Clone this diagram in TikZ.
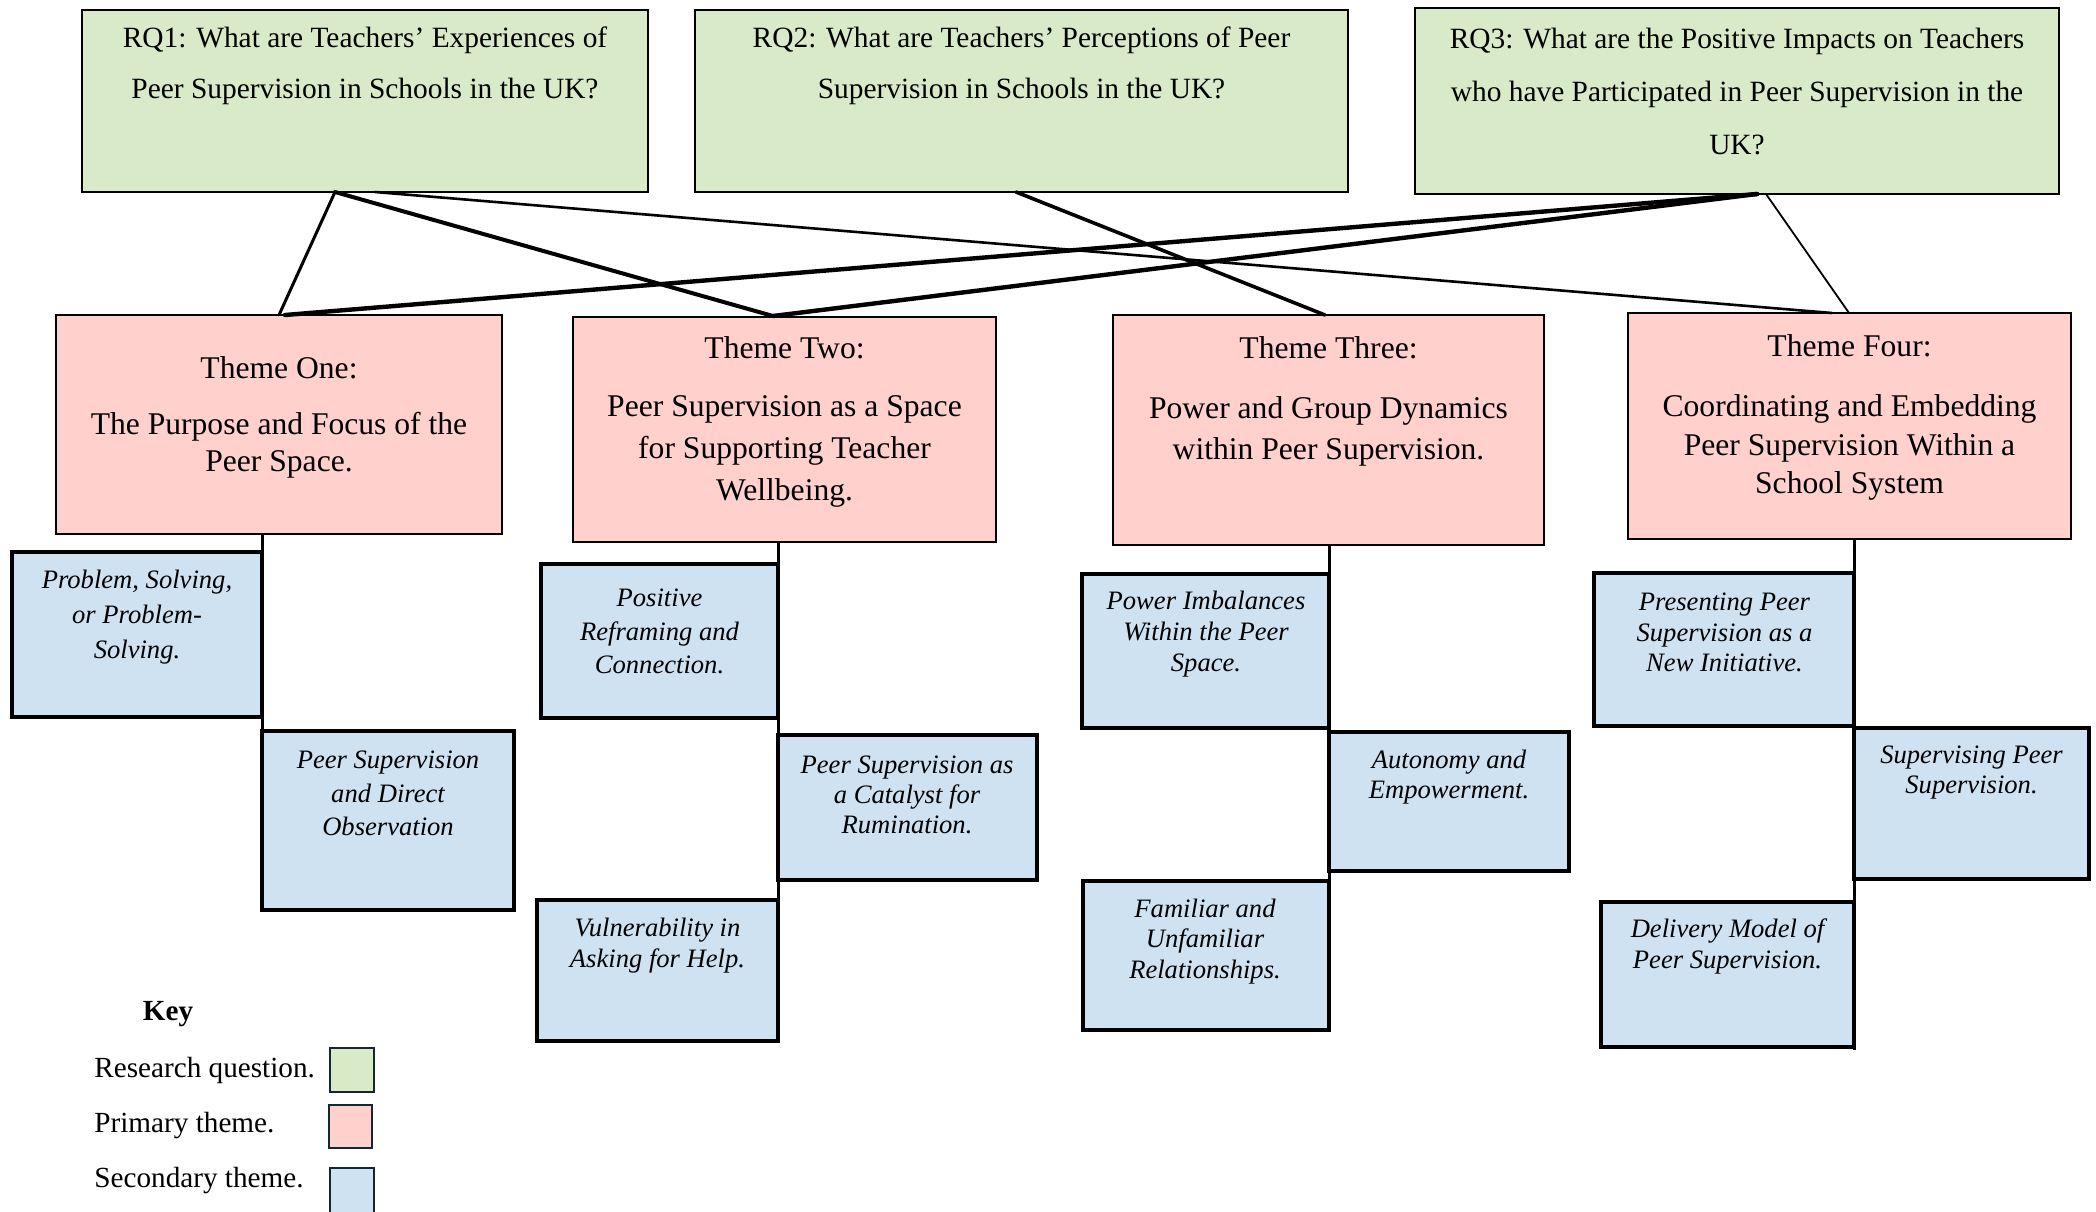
\documentclass[tikz,border=0pt]{standalone}
\usepackage{fontspec}
\setmainfont{Liberation Serif}
\usetikzlibrary{fit}
\definecolor{rqgreen}{RGB}{217,234,200}
\definecolor{thpink}{RGB}{255,208,204}
\definecolor{secblue}{RGB}{207,226,242}
\definecolor{keyedge}{RGB}{18,38,52}
\begin{document}
\begin{tikzpicture}[x=0.5pt,y=-0.5pt,
  rqbox/.style={draw=black, fill=rqgreen, line width=1.3pt, inner sep=0pt},
  thbox/.style={draw=black, fill=thpink, line width=1.4pt, inner sep=0pt},
  secbox/.style={draw=black, fill=secblue, line width=2pt, inner sep=0pt},
  keybox/.style={draw=keyedge, line width=1.1pt, inner sep=0pt},
  rqtext/.style={align=center, inner sep=0pt, font=\fontsize{14.7}{25.5}\selectfont},
  thtitle/.style={align=center, inner sep=0pt, font=\fontsize{15.8}{19}\selectfont},
  thtext/.style={align=center, inner sep=0pt, font=\fontsize{15.8}{#1}\selectfont},
  sectext/.style={align=center, inner sep=0pt, font=\fontsize{13.3}{#1}\selectfont\itshape},
  keytext/.style={anchor=west, inner sep=0pt, font=\fontsize{14.6}{17}\selectfont},
  link/.style={draw=black, line cap=round, line width=#1},
  stem/.style={draw=black, line width=1.5pt}
]
\useasboundingbox (0,0) rectangle (2096,1211);
\fill[white] (0,0) rectangle (2096,1211);

% Research questions
\node[rqbox, fit={(82,10) (648,192)}] (rq1) {};
\node[rqbox, fit={(695,10) (1348,192)}] (rq2) {};
\node[rqbox, fit={(1415,8) (2059,194)}] (rq3) {};
\node[rqtext] (rq1t) at (365,66) {RQ1: What are Teachers’ Experiences of\\Peer Supervision in Schools in the UK?};
\node[rqtext] (rq2t) at (1021.5,66) {RQ2: What are Teachers’ Perceptions of Peer\\Supervision in Schools in the UK?};
\node[rqtext, font=\fontsize{14.7}{26.5}\selectfont] (rq3t) at (1737,92) {RQ3: What are the Positive Impacts on Teachers\\who have Participated in Peer Supervision in the\\UK?};

% Primary themes
\node[thbox, fit={(56,315) (502,534)}] (th1) {};
\node[thbox, fit={(573,317) (996,542)}] (th2) {};
\node[thbox, fit={(1113,315) (1544,545)}] (th3) {};
\node[thbox, fit={(1628,313) (2071,539)}] (th4) {};
\node[thtitle] (th1a) at (279,368) {Theme One:};
\node[thtext=18.5] (th1b) at (279,445.5) {The Purpose and Focus of the\\Peer Space.};
\node[thtitle] (th2a) at (784.5,348) {Theme Two:};
\node[thtext=21] (th2b) at (784.5,451) {Peer Supervision as a Space\\for Supporting Teacher\\Wellbeing.};
\node[thtitle] (th3a) at (1328.5,348) {Theme Three:};
\node[thtext=20.5] (th3b) at (1328.5,431.5) {Power and Group Dynamics\\within Peer Supervision.};
\node[thtitle] (th4a) at (1849.5,346) {Theme Four:};
\node[thtext=19.3] (th4b) at (1849.5,447.5) {Coordinating and Embedding\\Peer Supervision Within a\\School System};

% Connector attachment points
\coordinate (rq1a) at (335,192);
\coordinate (rq1b) at (375,192);
\coordinate (rq2a) at (1016,192);
\coordinate (rq3a) at (1757,194);
\coordinate (rq3b) at (1766,194);
\coordinate (th1p) at (279,315);
\coordinate (th1q) at (285,315);
\coordinate (th2p) at (773,316);
\coordinate (th3p) at (1325,315);
\coordinate (th4p) at (1832,313);
\coordinate (th4q) at (1849,313);

\draw[link=1.5pt] (rq1a) -- (th1p);
\draw[link=2pt] (rq1a) -- (th2p);
\draw[link=1.3pt] (rq1b) -- (th4p);
\draw[link=1.8pt] (rq2a) -- (th3p);
\draw[link=2.2pt] (rq3a) -- (th1q);
\draw[link=2.2pt] (rq3a) -- (th2p);
\draw[link=0.9pt] (rq3b) -- (th4q);

% Secondary themes
\node[secbox, fit={(12,552) (262,717)}] (s11) {};
\node[secbox, fit={(262,731) (514,910)}] (s12) {};
\node[secbox, fit={(541,564) (778,718)}] (s21) {};
\node[secbox, fit={(778,735) (1037,880)}] (s22) {};
\node[secbox, fit={(537,900) (778,1041)}] (s23) {};
\node[secbox, fit={(1082,574) (1329,728)}] (s31) {};
\node[secbox, fit={(1329,732) (1569,871)}] (s32) {};
\node[secbox, fit={(1083,881) (1329,1030)}] (s33) {};
\node[secbox, fit={(1594,573) (1854,726)}] (s41) {};
\node[secbox, fit={(1854,728) (2089,879)}] (s42) {};
\node[secbox, fit={(1601,902) (1854,1047)}] (s43) {};

\node[sectext=17.5] (s11t) at (137,617) {Problem, Solving,\\or Problem-\\Solving.};
\node[sectext=16.8] (s12t) at (388,793.5) {Peer Supervision\\and Direct\\Observation};
\node[sectext=16.8] (s21t) at (659.5,631.5) {Positive\\Reframing and\\Connection.};
\node[sectext=15] (s22t) at (907,795) {Peer Supervision as\\a Catalyst for\\Rumination.};
\node[sectext=15.5] (s23t) at (657.5,945.5) {Vulnerability in\\Asking for Help.};
\node[sectext=15.5] (s31t) at (1206,634) {Power Imbalances\\Within the Peer\\Space.};
\node[sectext=15.3] (s32t) at (1449,777) {Autonomy and\\Empowerment.};
\node[sectext=15.3] (s33t) at (1205,941.5) {Familiar and\\Unfamiliar\\Relationships.};
\node[sectext=15.3] (s41t) at (1724.5,632.5) {Presenting Peer\\Supervision as a\\New Initiative.};
\node[sectext=15] (s42t) at (1971.5,773) {Supervising Peer\\Supervision.};
\node[sectext=15.5] (s43t) at (1727.5,946.5) {Delivery Model of\\Peer Supervision.};

% Stems
\coordinate (st1a) at (262,534);  \coordinate (st1b) at (262,881);
\coordinate (st2a) at (778,542);  \coordinate (st2b) at (778,1041);
\coordinate (st3a) at (1329,545); \coordinate (st3b) at (1329,1030);
\coordinate (st4a) at (1854,539); \coordinate (st4b) at (1854,1050);
\draw[stem] (st1a) -- (st1b);
\draw[stem] (st2a) -- (st2b);
\draw[stem] (st3a) -- (st3b);
\draw[stem] (st4a) -- (st4b);

% Key
\node[inner sep=0pt, font=\fontsize{14.6}{17}\selectfont\bfseries] (key) at (168,1014) {Key};
\node[keytext] (k1) at (94,1070) {Research question.};
\node[keytext] (k2) at (94,1125) {Primary theme.};
\node[keytext] (k3) at (94,1180) {Secondary theme.};
\node[keybox, fill=rqgreen, fit={(330,1048) (374,1092)}] (kb1) {};
\node[keybox, fill=thpink, fit={(329,1105) (372,1148)}] (kb2) {};
\node[keybox, fill=secblue, fit={(330,1168) (374,1216)}] (kb3) {};
\end{tikzpicture}
\end{document}
